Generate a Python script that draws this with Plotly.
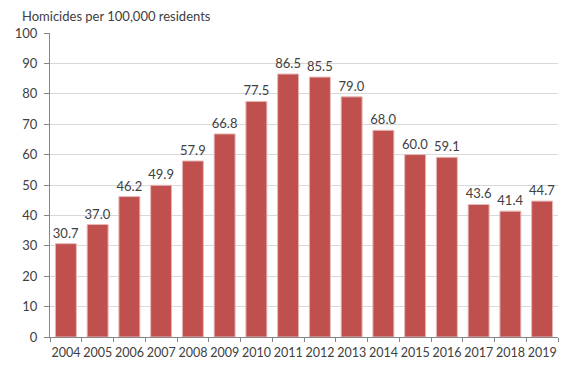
import plotly.graph_objects as go

years = ["2004", "2005", "2006", "2007", "2008", "2009", "2010", "2011",
         "2012", "2013", "2014", "2015", "2016", "2017", "2018", "2019"]
rates = [30.7, 37.0, 46.2, 49.9, 57.9, 66.8, 77.5, 86.5,
         85.5, 79.0, 68.0, 60.0, 59.1, 43.6, 41.4, 44.7]
y_ticks = list(range(0, 101, 10))

font_family = "Lato, 'Open Sans', sans-serif"

fig = go.Figure(go.Bar(
    x=years, y=rates,
    marker=dict(color="#C0504D", line=dict(color="#E6B9B8", width=1)),
    text=[f"{v:.1f}" for v in rates],
    textposition="outside",
    constraintext="none",
    textfont=dict(size=13, color="#404040", family=font_family),
    cliponaxis=False,
))

fig.update_layout(
    width=576, height=365,
    margin=dict(l=42, r=26, t=25, b=36, autoexpand=False),
    paper_bgcolor="white", plot_bgcolor="white",
    bargap=0.34,
    showlegend=False,
    font=dict(family=font_family, size=13, color="#404040"),
    annotations=[dict(
        text="Homicides per 100,000 residents",
        xref="paper", yref="paper", x=-0.06, y=1.0, yshift=17,
        xanchor="left", yanchor="middle", showarrow=False,
        font=dict(size=13, color="#404040", family=font_family),
    )],
)

fig.update_xaxes(
    type="category",
    showline=True, linecolor="#868686", linewidth=1,
    ticks="outside", tickson="boundaries", ticklen=4, tickcolor="#868686",
    showgrid=False, tickangle=0, automargin=False, ticklabelstandoff=4,
    tickfont=dict(size=12.5, color="#404040"),
)
fig.update_yaxes(
    range=[0, 100], tickvals=y_ticks,
    showline=True, linecolor="#868686", linewidth=1,
    ticks="outside", ticklen=5, tickcolor="#868686",
    showgrid=True, gridcolor="#D9D9D9", gridwidth=1,
    zeroline=False, automargin=False, ticklabelstandoff=4,
    tickfont=dict(size=13, color="#404040"),
)

fig.write_html("out.html")
